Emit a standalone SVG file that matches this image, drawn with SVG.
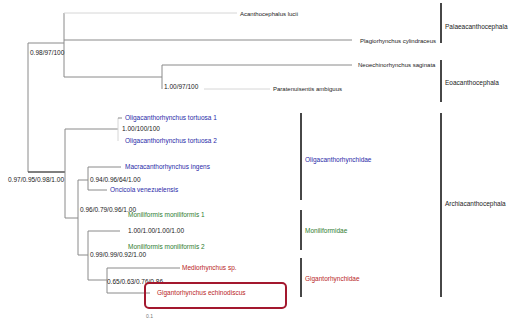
<svg xmlns="http://www.w3.org/2000/svg" width="517" height="322" viewBox="0 0 517 322">
  <style>
    text { font-family: "Liberation Sans", Arial, sans-serif; font-size: 6.5px; }
    .sm { font-size: 6px; }
    .sup { fill: #222; }
    .tip { fill: #222; }
    .blue { fill: #2a2aa8; }
    .green { fill: #2f7d2f; }
    .red { fill: #b81e1e; }
    .br { fill: none; stroke: #8a8a8a; stroke-width: 1; }
    .dark { stroke: #555; stroke-width: 1.4; }
    .faint { stroke: #d6d6d6; }
    .bar { stroke: #333; stroke-width: 1.8; }
  </style>
  <rect width="517" height="322" fill="#ffffff"/>

  <!-- tree branches -->
  <g id="connectors" class="br">
    <path d="M28,43 V172"/>
    <path d="M28,43 H64"/>
    <path d="M64,13 V77"/>
    <path class="faint" d="M64,13 H237"/>
    <path d="M64,40 H352"/>
    <path d="M64,77 H162"/>
    <path d="M162,65 V89"/>
    <path d="M162,65 H352"/>
    <path class="faint" d="M204,89 H270"/>
    <path class="dark" d="M28,172 H65"/>
    <path d="M65,129 V218"/>
    <path d="M65,129 H118"/>
    <path class="faint" d="M118,118 V141"/>
    <path d="M118,118 H122"/>
    <path d="M65,218 H78"/>
    <path d="M78,180 V255"/>
    <path d="M78,180 H88"/>
    <path d="M88,167 V190"/>
    <path d="M88,167 H121"/>
    <path d="M88,190 H107"/>
    <path d="M78,255 H88"/>
    <path d="M88,231 V280"/>
    <path d="M88,231 H120"/>
    <path d="M107,268 V293"/>
    <path d="M88,280 H107"/>
    <path d="M107,268 H180"/>
    <path d="M107,293 H150"/>
  </g>

  <!-- clade bars -->
  <g id="bars" class="bar">
    <line x1="441" y1="3" x2="441" y2="43"/>
    <line x1="441" y1="60" x2="441" y2="102"/>
    <line x1="441" y1="113" x2="441" y2="297"/>
    <line x1="301" y1="113" x2="301" y2="200"/>
    <line x1="301" y1="210" x2="301" y2="250"/>
    <line x1="301" y1="258" x2="301" y2="297"/>
  </g>

  <!-- support values -->
  <g id="support">
    <text class="sup" x="30" y="55">0.98/97/100</text>
    <text class="sup" x="164" y="89">1.00/97/100</text>
    <text class="sup" x="122" y="131">1.00/100/100</text>
    <text class="sup" x="8" y="182">0.97/0.95/0.98/1.00</text>
    <text class="sup" x="90" y="182">0.94/0.96/64/1.00</text>
    <text class="sup" x="80" y="212">0.96/0.79/0.96/1.00</text>
    <text class="sup" x="128" y="233">1.00/1.00/1.00/1.00</text>
    <text class="sup" x="90" y="257">0.99/0.99/0.92/1.00</text>
    <text class="sup" x="107" y="284">0.65/0.63/0.76/0.86</text>
  </g>

  <!-- taxa -->
  <g id="taxon-acanthocephalus"><text class="tip sm" x="240" y="16">Acanthocephalus lucii</text></g>
  <g id="taxon-plagiorhynchus"><text class="tip sm" x="360" y="43">Plagiorhynchus cylindraceus</text></g>
  <g id="taxon-neoechinorhynchus"><text class="tip sm" x="358" y="67">Neoechinorhynchus saginata</text></g>
  <g id="taxon-paratenuisentis"><text class="tip sm" x="273" y="91">Paratenuisentis ambiguus</text></g>
  <g id="taxon-oligacanthorhynchus-1"><text class="blue" x="125" y="120">Oligacanthorhynchus tortuosa 1</text></g>
  <g id="taxon-oligacanthorhynchus-2"><text class="blue" x="125" y="143">Oligacanthorhynchus tortuosa 2</text></g>
  <g id="taxon-macracanthorhynchus"><text class="blue" x="125" y="169">Macracanthorhynchus ingens</text></g>
  <g id="taxon-oncicola"><text class="blue" x="110" y="192">Oncicola venezuelensis</text></g>
  <g id="taxon-moniliformis-1"><text class="green" x="128" y="217">Moniliformis moniliformis 1</text></g>
  <g id="taxon-moniliformis-2"><text class="green" x="128" y="249">Moniliformis moniliformis 2</text></g>
  <g id="taxon-mediorhynchus"><text class="red" x="182" y="270">Mediorhynchus sp.</text></g>
  <g id="taxon-gigantorhynchus">
    <rect x="145" y="283" width="141" height="25" rx="4" fill="none" stroke="#a3182e" stroke-width="2"/>
    <text class="red" x="157" y="295">Gigantorhynchus echinodiscus</text>
  </g>

  <!-- family / class labels -->
  <g id="label-oligacanthorhynchidae"><text class="blue" x="305" y="162">Oligacanthorhynchidae</text></g>
  <g id="label-moniliformidae"><text class="green" x="305" y="233">Moniliformidae</text></g>
  <g id="label-gigantorhynchidae"><text class="red" x="305" y="281">Gigantorhynchidae</text></g>
  <g id="label-palaeacanthocephala"><text class="tip" x="445" y="29">Palaeacanthocephala</text></g>
  <g id="label-eoacanthocephala"><text class="tip" x="445" y="85">Eoacanthocephala</text></g>
  <g id="label-archiacanthocephala"><text class="tip" x="445" y="206">Archiacanthocephala</text></g>

  <!-- scale -->
  <g id="scale"><text x="146" y="318" style="font-size:5px" fill="#777">0.1</text></g>
</svg>
